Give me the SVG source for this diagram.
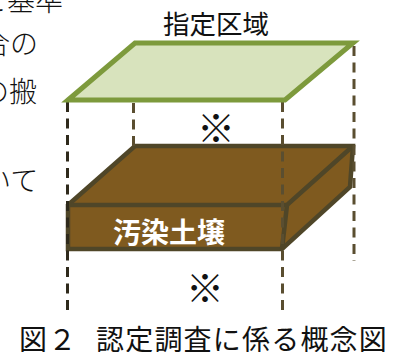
<svg xmlns="http://www.w3.org/2000/svg" width="411" height="352" viewBox="0 0 411 352">
<style>
text{font-family:"Noto Sans CJK JP","Noto Sans",sans-serif;fill:#111}
.body{font-size:28px;font-weight:300}
.mark{font-size:38px;font-weight:300}
.soil{fill:#7f5a1f;stroke:#4f4628;stroke-width:4.5;stroke-linejoin:miter}
.edge{fill:none;stroke:#4f4628;stroke-width:4.5}
.dash{fill:none;stroke:#5a4e30;stroke-width:3;stroke-dasharray:10 6.5}
</style>
<rect width="411" height="352" fill="#fff"/>
<g id="body-text">
<text class="body" x="-21" y="11">と基準</text>
<text class="body" x="-18" y="54">合の</text>
<text class="body" x="-19" y="102">の搬</text>
<text class="body" x="-17" y="191">いて</text>
</g>
<g id="soil-block">
<path class="soil" d="M68 205L135 146H353L350 187L282 249H68Z"/>
<path class="edge" d="M68 205H287L353 146M287 205L282 249"/>
<text x="169" y="243" text-anchor="middle" font-size="28" font-weight="700" style="fill:#fff">汚染土壌</text>
</g>
<g id="connectors">
<path class="dash" style="stroke:#2f2a1c" d="M67.500 102V316"/>
<path class="dash" d="M133.500 103V146M282.500 102V316M354 46V261"/>
</g>
<g id="designated-area">
<path d="M68 100L135 43H353L285 100Z" fill="#d8e3bd" stroke="#7d9a3c" stroke-width="5"/>
<text x="216" y="34" text-anchor="middle" font-size="26.500">指定区域</text>
</g>
<g id="marks">
<text class="mark" x="216" y="142" text-anchor="middle">※</text>
<text class="mark" x="205" y="302" text-anchor="middle">※</text>
</g>
<g id="caption">
<text y="349.500" font-size="28" letter-spacing="1.200"><tspan x="19">図２</tspan><tspan x="96">認定調査に係る概念図</tspan></text>
</g>
</svg>
